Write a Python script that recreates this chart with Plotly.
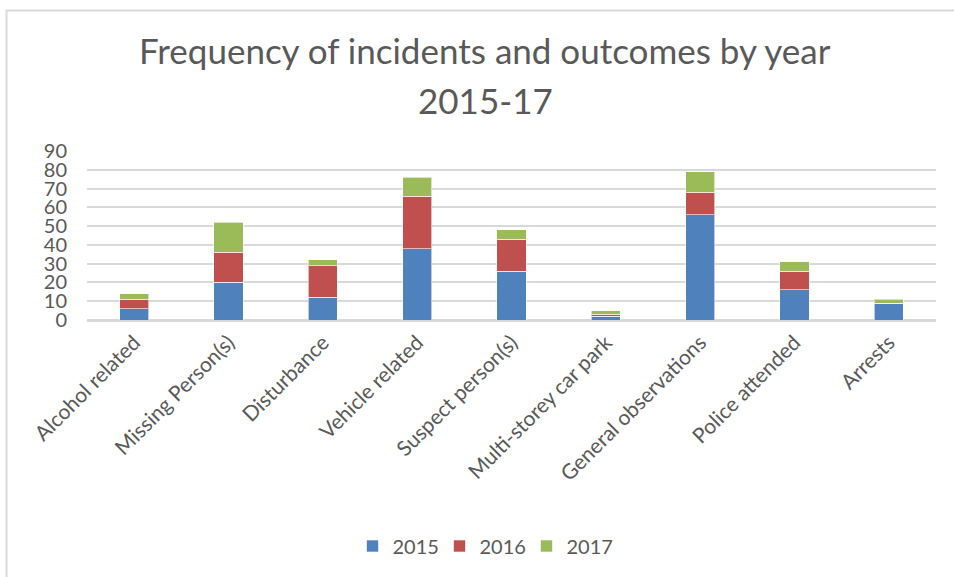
import plotly.graph_objects as go

categories = [
    "Alcohol related", "Missing Person(s)", "Disturbance", "Vehicle related",
    "Suspect person(s)", "Multi-storey car park", "General observations",
    "Police attended", "Arrests",
]
y2015 = [6, 20, 12, 38, 26, 2, 56, 16, 9]
y2016 = [5, 16, 17, 28, 17, 1, 12, 10, 0]
y2017 = [3, 16, 3, 10, 5, 2, 11, 5, 2]
years = ["2015", "2016", "2017"]
colors = ["#4F81BD", "#C0504D", "#9BBB59"]
y_ticks = [0, 10, 20, 30, 40, 50, 60, 70, 80, 90]

FONT = "Lato"
GREY = "#595959"

fig = go.Figure()
for name, vals, col in zip(years, [y2015, y2016, y2017], colors):
    fig.add_trace(go.Bar(
        x=categories, y=vals, name=name,
        marker=dict(color=col, line=dict(color="rgba(255,255,255,0.6)", width=1)),
    ))

W, H = 954, 577
L, R, T, B = 87, 18, 151, 257
pw, ph = W - L - R, H - T - B

def px(x):
    return (x - L) / pw

def py(y):
    return (H - B - y) / ph

fig.update_layout(
    width=W, height=H,
    margin=dict(l=L, r=R, t=T, b=B),
    barmode="stack", bargap=0.69,
    plot_bgcolor="white", paper_bgcolor="white",
    font=dict(family=FONT, color=GREY),
    showlegend=True,
    legend=dict(
        orientation="h", xref="container", yref="container",
        x=483 / W, xanchor="center", y=1 - 546 / H, yanchor="middle",
        font=dict(size=20, color=GREY), traceorder="normal",
        itemwidth=30, entrywidth=42,
    ),
    xaxis=dict(
        tickangle=-45, tickfont=dict(size=21, color=GREY),
        showgrid=False, showline=True, linecolor="#D9D9D9", linewidth=2,
        ticks="",
    ),
    yaxis=dict(
        range=[0, 90], tickvals=y_ticks, tickfont=dict(size=20, color=GREY),
        showgrid=True, gridcolor="#D9D9D9", gridwidth=2,
        zeroline=True, zerolinecolor="#D9D9D9", zerolinewidth=2,
        ticklabelstandoff=19,
    ),
    annotations=[
        dict(text="Frequency of incidents and outcomes by year", xref="paper", yref="paper",
             x=px(485), y=py(50), showarrow=False, xanchor="center", yanchor="middle",
             font=dict(size=35, color=GREY, family=FONT)),
        dict(text="2015-17", xref="paper", yref="paper",
             x=px(485), y=py(100), showarrow=False, xanchor="center", yanchor="middle",
             font=dict(size=35, color=GREY, family=FONT)),
    ],
    shapes=[
        dict(type="rect", xref="paper", yref="paper",
             x0=px(6.5), y0=py(600), x1=px(980), y1=py(10.5),
             line=dict(color="#D9D9D9", width=2), fillcolor="rgba(0,0,0,0)", layer="below"),
    ],
)

fig.write_html("out.html")
